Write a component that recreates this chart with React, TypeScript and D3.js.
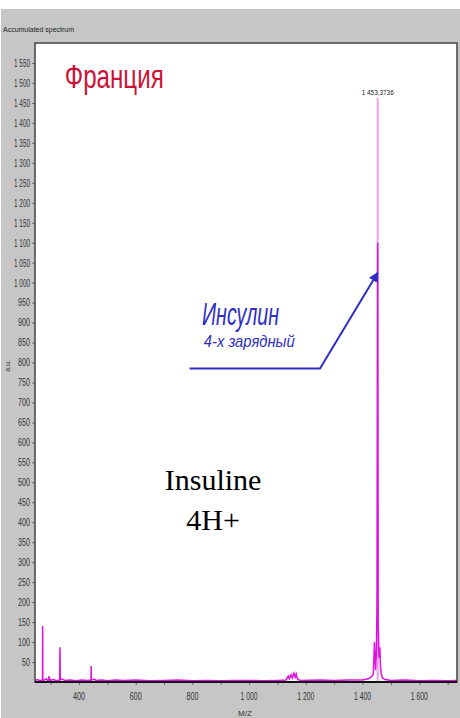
import * as d3 from "d3";
import { useEffect, useRef } from "react";

// spectrum (m/z, intensity)
const mzValues = [
  245, 255, 262, 270, 271.5, 272, 272.5, 274, 285, 290, 293.5, 294, 294.5, 297, 300, 310, 320,
  332, 333, 334, 337, 345, 350, 370, 390, 410, 430, 440, 442.5, 443, 443.5, 446, 455, 460, 480,
  500, 530, 560, 600, 650, 700, 750, 800, 850, 900, 950, 1000, 1050, 1100, 1130, 1138, 1142, 1148,
  1152, 1158, 1162, 1166, 1170, 1180, 1250, 1300, 1350, 1400, 1420, 1430, 1438, 1442, 1446, 1449,
  1451, 1453.37, 1455, 1458, 1461, 1463, 1466, 1470, 1480, 1500, 1550, 1600, 1650, 1700, 1733,
];
const intensityValues = [
  4, 6, 3, 5, 6, 140, 6, 4, 8, 3, 5, 15, 5, 8, 4, 6, 3,
  5, 87, 5, 8, 6, 4, 5, 3, 5, 4, 5, 4, 40, 4, 6, 7, 4, 5,
  3, 5, 4, 5, 3, 4, 5, 3, 4, 3, 4, 4, 3, 4, 5, 15, 8, 18,
  10, 22, 12, 20, 8, 4, 5, 4, 5, 5, 8, 12, 20, 100, 30, 80,
  200, 1100, 150, 60, 87, 40, 20, 10, 6, 4, 5, 3, 4, 3, 4,
];

// apex of the 4+ insulin peak
const apexMz = 1453.3736;
const apexIntensity = 1462;
const apexLabel = "1 453,3736";

const xTicks = [300, 400, 500, 600, 700, 800, 900, 1000, 1100, 1200, 1300, 1400, 1500, 1600, 1700];
const xTickLabels = [400, 600, 800, 1000, 1200, 1400, 1600];
const yTicks = d3.range(50, 1551, 50);

const fmt = (d: number) =>
  d >= 1000 ? `${Math.floor(d / 1000)} ${String(d % 1000).padStart(3, "0")}` : `${d}`;

const W = 460;
const H = 718;
const plot = { left: 35, right: 457, top: 43, bottom: 682 };
const narrow = "'Liberation Sans Narrow', 'Arial Narrow', 'Liberation Sans', sans-serif";

export default function App() {
  const svgRef = useRef<SVGSVGElement>(null);

  useEffect(() => {
    const svg = d3.select(svgRef.current);
    svg.selectAll("*").remove();

    const x = d3.scaleLinear().domain([245, 1733]).range([plot.left, plot.right]);
    const y = d3.scaleLinear().domain([0, 1600]).range([plot.bottom, plot.top]);

    //BACKGROUND
    svg.append("rect").attr("width", W).attr("height", H).attr("fill", "#fff");
    svg.append("rect").attr("x", 1).attr("y", 9).attr("width", W - 1).attr("height", H - 9).attr("fill", "#c6c6c6");
    svg
      .append("rect")
      .attr("x", plot.left)
      .attr("y", plot.top)
      .attr("width", plot.right - plot.left)
      .attr("height", plot.bottom - plot.top)
      .attr("fill", "#fff");

    svg
      .append("text")
      .attr("x", 3)
      .attr("y", 32)
      .attr("font-family", narrow)
      .attr("font-size", 8)
      .attr("textLength", 71)
      .attr("lengthAdjust", "spacingAndGlyphs")
      .attr("fill", "#222")
      .text("Accumulated spectrum");

    //Y AXIS
    const yAxis = svg
      .append("g")
      .attr("transform", `translate(${plot.left},0)`)
      .call(d3.axisLeft(y).tickValues(yTicks).tickSize(3).tickPadding(2).tickFormat((d) => fmt(+d)));
    yAxis.select(".domain").remove();
    yAxis.selectAll("line").attr("stroke", "#666");
    yAxis
      .selectAll<SVGTextElement, number>("text")
      .attr("font-family", narrow)
      .attr("font-size", 10.5)
      .attr("fill", "#333")
      .attr("textLength", (d) => (d >= 1000 ? 16 : d >= 100 ? 12 : 8))
      .attr("lengthAdjust", "spacingAndGlyphs");

    //X AXIS
    const xAxis = svg
      .append("g")
      .attr("transform", `translate(0,${plot.bottom})`)
      .call(d3.axisBottom(x).tickValues(xTicks).tickSize(3).tickFormat(() => ""));
    xAxis.select(".domain").remove();
    xAxis.selectAll("line").attr("stroke", "#666");
    svg
      .append("g")
      .selectAll("text")
      .data(xTickLabels)
      .join("text")
      .attr("x", (d) => x(d))
      .attr("y", 700)
      .attr("text-anchor", "middle")
      .attr("font-family", narrow)
      .attr("font-size", 11)
      .attr("fill", "#333")
      .attr("textLength", (d) => (d >= 1000 ? 17 : 12))
      .attr("lengthAdjust", "spacingAndGlyphs")
      .text((d) => fmt(d));

    svg
      .append("text")
      .attr("x", 245)
      .attr("y", 716)
      .attr("text-anchor", "middle")
      .attr("font-family", narrow)
      .attr("font-size", 8)
      .attr("fill", "#333")
      .text("M/Z");
    svg
      .append("text")
      .attr("transform", "translate(10,366) rotate(-90)")
      .attr("text-anchor", "middle")
      .attr("font-family", narrow)
      .attr("font-size", 7)
      .attr("fill", "#333")
      .text("a.u.");

    //SPECTRUM
    svg
      .append("line")
      .attr("x1", x(apexMz))
      .attr("x2", x(apexMz))
      .attr("y1", y(0))
      .attr("y2", y(apexIntensity))
      .attr("stroke", "#f0a0f0")
      .attr("stroke-width", 2);
    const pts = mzValues.map((m, i) => [m, intensityValues[i]] as [number, number]);
    svg
      .append("path")
      .datum(pts)
      .attr("d", d3.line<[number, number]>().x((d) => x(d[0])).y((d) => y(d[1])))
      .attr("fill", "none")
      .attr("stroke", "#e010e0")
      .attr("stroke-width", 1.5);
    svg
      .append("text")
      .attr("x", x(apexMz))
      .attr("y", y(apexIntensity) - 3)
      .attr("text-anchor", "middle")
      .attr("font-family", narrow)
      .attr("font-size", 8)
      .attr("textLength", 32)
      .attr("lengthAdjust", "spacingAndGlyphs")
      .attr("fill", "#222")
      .text(apexLabel);

    //FRAME
    svg
      .append("rect")
      .attr("x", plot.left)
      .attr("y", plot.top)
      .attr("width", plot.right - plot.left)
      .attr("height", plot.bottom - plot.top)
      .attr("fill", "none")
      .attr("stroke", "#444")
      .attr("stroke-width", 1.5);
    svg
      .append("line")
      .attr("x1", plot.left)
      .attr("x2", plot.right)
      .attr("y1", plot.bottom)
      .attr("y2", plot.bottom)
      .attr("stroke", "#111")
      .attr("stroke-width", 2);

    //TITLE
    svg
      .append("text")
      .attr("x", x(350))
      .attr("y", y(1487))
      .attr("font-family", "'Liberation Sans', Arial, sans-serif")
      .attr("font-size", 33)
      .attr("textLength", 99)
      .attr("lengthAdjust", "spacingAndGlyphs")
      .attr("fill", "#cc1236")
      .text("Франция");

    //ANNOTATION
    const blue = "#2e2ec4";
    svg
      .append("defs")
      .append("marker")
      .attr("id", "arrow")
      .attr("viewBox", "0 0 10 10")
      .attr("refX", 9)
      .attr("refY", 5)
      .attr("markerWidth", 5)
      .attr("markerHeight", 5)
      .attr("orient", "auto")
      .append("path")
      .attr("d", "M0,0 L10,5 L0,10 z")
      .attr("fill", blue);
    svg
      .append("polyline")
      .attr("points", [[790, 785], [1250, 785], [apexMz, 1025]].map((p) => `${x(p[0])},${y(p[1])}`).join(" "))
      .attr("fill", "none")
      .attr("stroke", blue)
      .attr("stroke-width", 2)
      .attr("marker-end", "url(#arrow)");
    svg
      .append("text")
      .attr("x", x(834))
      .attr("y", y(894))
      .attr("font-family", "'Liberation Sans', Arial, sans-serif")
      .attr("font-style", "italic")
      .attr("font-size", 31)
      .attr("textLength", 77)
      .attr("lengthAdjust", "spacingAndGlyphs")
      .attr("fill", blue)
      .text("Инсулин");
    svg
      .append("text")
      .attr("x", x(840))
      .attr("y", y(839))
      .attr("font-family", "'Liberation Sans', Arial, sans-serif")
      .attr("font-style", "italic")
      .attr("font-size", 17)
      .attr("textLength", 91)
      .attr("lengthAdjust", "spacingAndGlyphs")
      .attr("fill", blue)
      .text("4-х зарядный");

    svg
      .append("text")
      .attr("x", x(873))
      .attr("y", y(481))
      .attr("text-anchor", "middle")
      .attr("font-family", "'Liberation Serif', 'Times New Roman', serif")
      .attr("font-size", 30)
      .attr("fill", "#000")
      .text("Insuline");
    svg
      .append("text")
      .attr("x", x(873))
      .attr("y", y(381))
      .attr("text-anchor", "middle")
      .attr("font-family", "'Liberation Serif', 'Times New Roman', serif")
      .attr("font-size", 30)
      .attr("fill", "#000")
      .text("4H+");
  }, []);

  return (
    <svg
      ref={svgRef}
      width={W}
      height={H}
      style={{ position: "absolute", left: 0, top: 0, display: "block" }}
    />
  );
}
